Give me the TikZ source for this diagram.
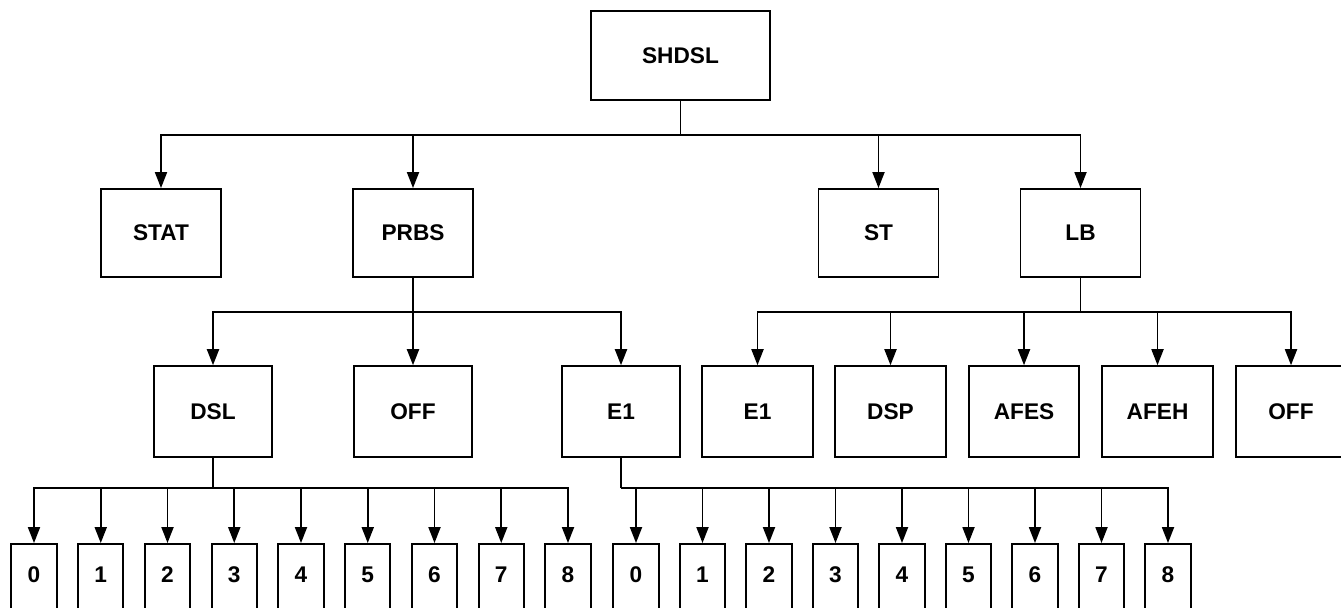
\documentclass[tikz,border=0pt]{standalone}
\usepackage{fontspec}
\setmainfont{Liberation Sans}
\usetikzlibrary{arrows.meta}
\tikzset{box/.style={draw, line width=1.4pt, inner sep=0pt, font=\bfseries\fontsize{17}{19}\selectfont},
  root/.style={box, minimum width=134pt, minimum height=67pt},
  menu/.style={box, minimum width=90pt, minimum height=66pt},
  sub/.style={box, minimum width=89pt, minimum height=68pt},
  subn/.style={box, minimum width=83pt, minimum height=68pt},
  leaf/.style={box, minimum width=34pt, minimum height=60pt, text depth=13.5pt},
  arr/.style={line width=1.4pt, -{Triangle[length=12pt,width=9pt]}}}

\begin{document}
\begin{tikzpicture}[x=0.75pt,y=-0.75pt]
\clip (0,0) rectangle (1341,607);
\node[root] (shdsl) at (680.5,55.5) {SHDSL};
\foreach \n/\t/\x in {stat/STAT/161,prbs/PRBS/413,st/ST/878.5,lb/LB/1080.5}{
  \node[menu] (\n) at (\x,233) {\t};
}
\foreach \n/\t/\x in {dsl/DSL/213,off/OFF/413,eo/E1/621}{
  \node[sub] (\n) at (\x,411.5) {\t};
}
\foreach \n/\t/\x in {lbeo/E1/757.5,dsp/DSP/890.5,afes/AFES/1024,afeh/AFEH/1157.5,lboff/OFF/1291}{
  \node[subn] (\n) at (\x,411.5) {\t};
}
% bottom row runs past the lower edge
\foreach \i in {0,...,8}{
  \node[leaf] (dsl\i) at (34+\i*66.75,584) {\i};
  \node[leaf] (eo\i) at (636+\i*66.5,584) {\i};
}
% junctions
\coordinate (j0) at (680.5,135);
\coordinate (j1) at (413,312);
\coordinate (j2) at (1080.5,312);
\coordinate (j3) at (213,488);
\coordinate (j4) at (621,488);
\draw[line width=1.4pt] (shdsl) -- (j0) (prbs) -- (j1) (lb) -- (j2) (dsl) -- (j3) (eo) -- (j4);
\foreach \n in {stat,prbs,st,lb}{\draw[arr] (j0) -| (\n);}
\foreach \n in {dsl,off,eo}{\draw[arr] (j1) -| (\n);}
\foreach \n in {lbeo,dsp,afes,afeh,lboff}{\draw[arr] (j2) -| (\n);}
\foreach \i in {0,...,8}{
  \draw[arr] (j3) -| (dsl\i);
  \draw[arr] (j4) -| (eo\i);
}
\end{tikzpicture}
\end{document}
